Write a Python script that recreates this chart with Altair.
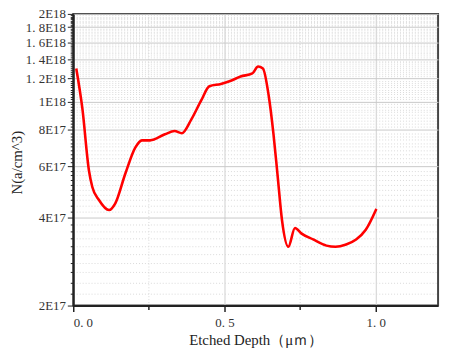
import altair as alt
import pandas as pd

depth = [0.010, 0.030, 0.052, 0.063, 0.085, 0.118, 0.139, 0.172, 0.205, 0.227, 0.254,
         0.303, 0.335, 0.359, 0.390, 0.423, 0.450, 0.488, 0.521, 0.553, 0.592, 0.611,
         0.627, 0.646, 0.662, 0.675, 0.690, 0.711, 0.733, 0.755, 0.793, 0.837, 0.867,
         0.902, 0.935, 0.967, 1.002]
conc = [1.30e18, 9.5e17, 5.8e17, 5.1e17, 4.6e17, 4.25e17, 4.48e17, 5.66e17, 6.96e17,
        7.37e17, 7.37e17, 7.73e17, 7.93e17, 7.8e17, 8.68e17, 1.01e18, 1.13e18, 1.15e18,
        1.18e18, 1.22e18, 1.25e18, 1.32e18, 1.30e18, 1.05e18, 7.73e17, 5.66e17, 3.93e17,
        3.18e17, 3.69e17, 3.53e17, 3.37e17, 3.21e17, 3.18e17, 3.24e17, 3.37e17, 3.64e17,
        4.29e17]

y_major = [2e17, 4e17, 6e17, 8e17, 1e18, 1.2e18, 1.4e18, 1.6e18, 1.8e18, 2e18]
y_major_labels = ["2E17", "4E17", "6E17", "8E17", "1E18", "1. 2E18", "1. 4E18",
                  "1. 6E18", "1. 8E18", "2E18"]
y_ticks = [float(f"{k}E16") for k in range(20, 201, 2)]
x_major = [0.0, 0.5, 1.0]
x_major_labels = ["0. 0", "0. 5", "1. 0"]
x_ticks = [0.0, 0.25, 0.5, 0.75, 1.0]

df = pd.DataFrame({"depth": depth, "conc": conc})

major_list = "[" + ",".join(repr(v) for v in y_major) + "]"
ylabel_expr = "".join(f"datum.value=={v!r}?'{l}':" for v, l in zip(y_major, y_major_labels)) + "''"
xlabel_expr = "".join(f"datum.value=={v!r}?'{l}':" for v, l in zip(x_major, x_major_labels)) + "''"
x_major_list = "[" + ",".join(repr(v) for v in x_major) + "]"

FONT = "Liberation Serif"

ytest = f"indexof({major_list}, datum.value) >= 0"
xtest = f"indexof({x_major_list}, datum.value) >= 0"

chart = alt.Chart(df).mark_line(
    color="#ff0000", strokeWidth=2.6, interpolate="monotone"
).encode(
    x=alt.X("depth:Q", scale=alt.Scale(domain=[0, 1.206], nice=False, zero=False),
            axis=alt.Axis(
                values=x_ticks, labelExpr=xlabel_expr,
                title="Etched Depth（μｍ）", titleFont=FONT, titleFontSize=15,
                titleFontWeight="normal", titleColor="#222", titlePadding=3,
                labelFont=FONT, labelFontSize=13, labelColor="#333", labelPadding=5,
                domainColor="#222", domainWidth=2,
                tickColor="#222", tickWidth=1.5,
                tickSize={"condition": {"test": xtest, "value": 6}, "value": 4},
                grid=True,
                gridColor={"condition": {"test": xtest, "value": "#cfcfcf"}, "value": "#d8d8d8"},
                gridDash={"condition": {"test": xtest, "value": []}, "value": [1, 2]},
                gridWidth=1,
            )),
    y=alt.Y("conc:Q", scale=alt.Scale(type="log", domain=[2e17, 2e18], nice=False),
            axis=alt.Axis(
                values=y_ticks, labelExpr=ylabel_expr,
                title="N(a/cm^3)", titleFont=FONT, titleFontSize=15,
                titleFontWeight="normal", titleColor="#222",
                titleX=-57, titleY=150, titleAngle=270, titleAlign="center",
                titleBaseline="middle",
                labelFont=FONT, labelFontSize=13, labelColor="#333", labelPadding=2,
                domainColor="#222", domainWidth=2,
                tickColor="#222", tickWidth=1,
                tickSize={"condition": {"test": ytest, "value": 6}, "value": 3},
                grid=True,
                gridColor={"condition": {"test": ytest, "value": "#c8c8c8"}, "value": "#dadada"},
                gridDash={"condition": {"test": ytest, "value": []}, "value": [1, 2]},
                gridWidth=1,
                labelOverlap=False,
            )),
).properties(
    width=369, height=295,
    autosize=alt.AutoSizeParams(type="none"),
    padding={"left": 66, "top": 4, "right": 6, "bottom": 44},
).configure_view(stroke="#444", strokeWidth=2)

chart.save("out.html", embed_options={"renderer": "svg", "actions": False})
